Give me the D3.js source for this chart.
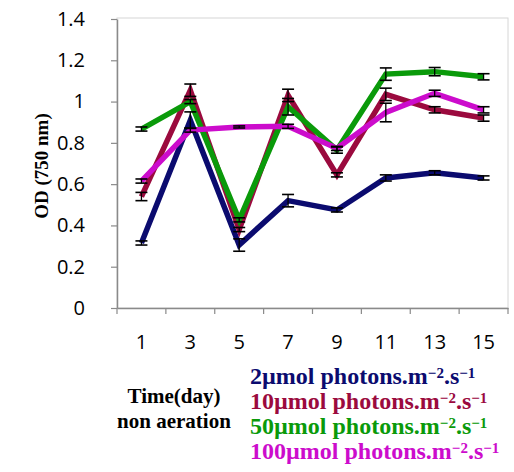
<!DOCTYPE html>
<html><head><meta charset="utf-8">
<script src="https://cdn.jsdelivr.net/npm/d3@7"></script>
<style>body{margin:0;background:#fff}svg{display:block}</style>
</head><body>
<svg id="c" width="514" height="472"></svg>
<script>
const days = ["1","3","5","7","9","11","13","15"];
const yTicks = [0,0.2,0.4,0.6,0.8,1,1.2,1.4];
const seriesLabels = ["2µmol","10µmol","50µmol","100µmol"];
const seriesColors = ["#0b0b6f","#9b0a3e","#0a9a0a","#cc0ccc"];
const s2 = [0.315,0.91,0.305,0.52,0.475,0.63,0.655,0.63];
const s10 = [0.54,1.055,0.38,1.03,0.645,1.035,0.96,0.92];
const s50 = [0.867,1.0,0.427,0.975,0.765,1.133,1.145,1.12];
const s100 = [0.615,0.862,0.877,0.88,0.773,0.947,1.04,0.96];
const e2 = [0.01,0.04,0.03,0.03,0.01,0.015,0.01,0.01];
const e10 = [0.02,0.03,0.01,0.03,0.01,0.03,0.015,0.015];
const e50 = [0.01,0.01,0.01,0.04,0.015,0.03,0.02,0.015];
const e100 = [0.01,0.01,0.005,0.01,0.01,0.045,0.015,0.015];
const values = [s2,s10,s50,s100];
const errors = [e2,e10,e50,e100];

const svg = d3.select("#c");
const L=117,R=508,T=19,B=308;
const x = d3.scaleBand().domain(days).range([L,R]).padding(0);
const y = d3.scaleLinear().domain([0,1.4]).range([B,T]);

svg.append("rect").attr("x",L).attr("y",T-1).attr("width",R-L).attr("height",B-T+1)
  .attr("fill","#fff").attr("stroke","#d6d6d6").attr("stroke-width",1);

const ya = svg.append("g").attr("transform",`translate(${L},0)`)
  .call(d3.axisLeft(y).tickValues(yTicks).tickFormat(d=>String(d)).tickSize(6).tickSizeOuter(0).tickPadding(26));
ya.select(".domain").attr("stroke","#8a8a8a").attr("stroke-width",1.5);
ya.selectAll(".tick line").attr("stroke","#8a8a8a").attr("stroke-width",1.2);
ya.selectAll(".tick text").attr("font-family","'Open Sans', sans-serif").attr("font-size",20).attr("fill","#000");

const xa = svg.append("g").attr("transform",`translate(0,${B})`)
  .call(d3.axisBottom(x).tickSize(0).tickSizeOuter(0).tickPadding(27));
xa.select(".domain").attr("stroke","#8a8a8a").attr("stroke-width",1.5);
xa.selectAll(".tick text").attr("font-family","'Open Sans', sans-serif").attr("font-size",20).attr("fill","#000");
const bounds = days.map(d=>x(d)).concat([x.range()[1]]);
xa.selectAll(".bt").data(bounds).enter().append("line")
  .attr("x1",d=>d).attr("x2",d=>d).attr("y1",0).attr("y2",6)
  .attr("stroke","#8a8a8a").attr("stroke-width",1.2);

const cx = d => x(d)+x.bandwidth()/2;
const line = d3.line().x((v,i)=>cx(days[i])).y(v=>y(v));

values.forEach((vals,k)=>{
  svg.append("path").datum(vals).attr("d",line).attr("fill","none")
    .attr("stroke",seriesColors[k]).attr("stroke-width",5.5).attr("stroke-linejoin","miter");
});
values.forEach((vals,k)=>{
  const g = svg.append("g");
  vals.forEach((v,i)=>{
    const e = errors[k][i], xx = cx(days[i]);
    g.append("line").attr("x1",xx).attr("x2",xx).attr("y1",y(v+e)).attr("y2",y(v-e)).attr("stroke","#000").attr("stroke-width",1.3);
    [v+e,v-e].forEach(w=>g.append("line").attr("x1",xx-6).attr("x2",xx+6).attr("y1",y(w)).attr("y2",y(w)).attr("stroke","#000").attr("stroke-width",1.6));
  });
});

svg.append("text").attr("transform","translate(48,166) rotate(-90)").attr("text-anchor","middle")
  .attr("font-family","'Liberation Serif', serif").attr("font-weight","bold").attr("font-size",19).text("OD (750 nm)");

const xl = svg.append("text").attr("text-anchor","middle").attr("font-family","'Liberation Serif', serif")
  .attr("font-weight","bold").attr("font-size",21);
xl.append("tspan").attr("x",174).attr("y",403).text("Time(day)");
xl.append("tspan").attr("x",174).attr("y",428).text("non aeration");

seriesLabels.forEach((n,k)=>{
  const t = svg.append("text").attr("x",250).attr("y",384+k*25).attr("fill",seriesColors[k])
    .attr("font-family","'Liberation Serif', serif").attr("font-weight","bold").attr("font-size",24);
  t.append("tspan").text(n+" photons.m");
  t.append("tspan").attr("font-size",15).attr("dy",-6).text("\u22122");
  t.append("tspan").attr("dy",6).text(".s");
  t.append("tspan").attr("font-size",15).attr("dy",-6).text("\u22121");
});
</script>
</body></html>
